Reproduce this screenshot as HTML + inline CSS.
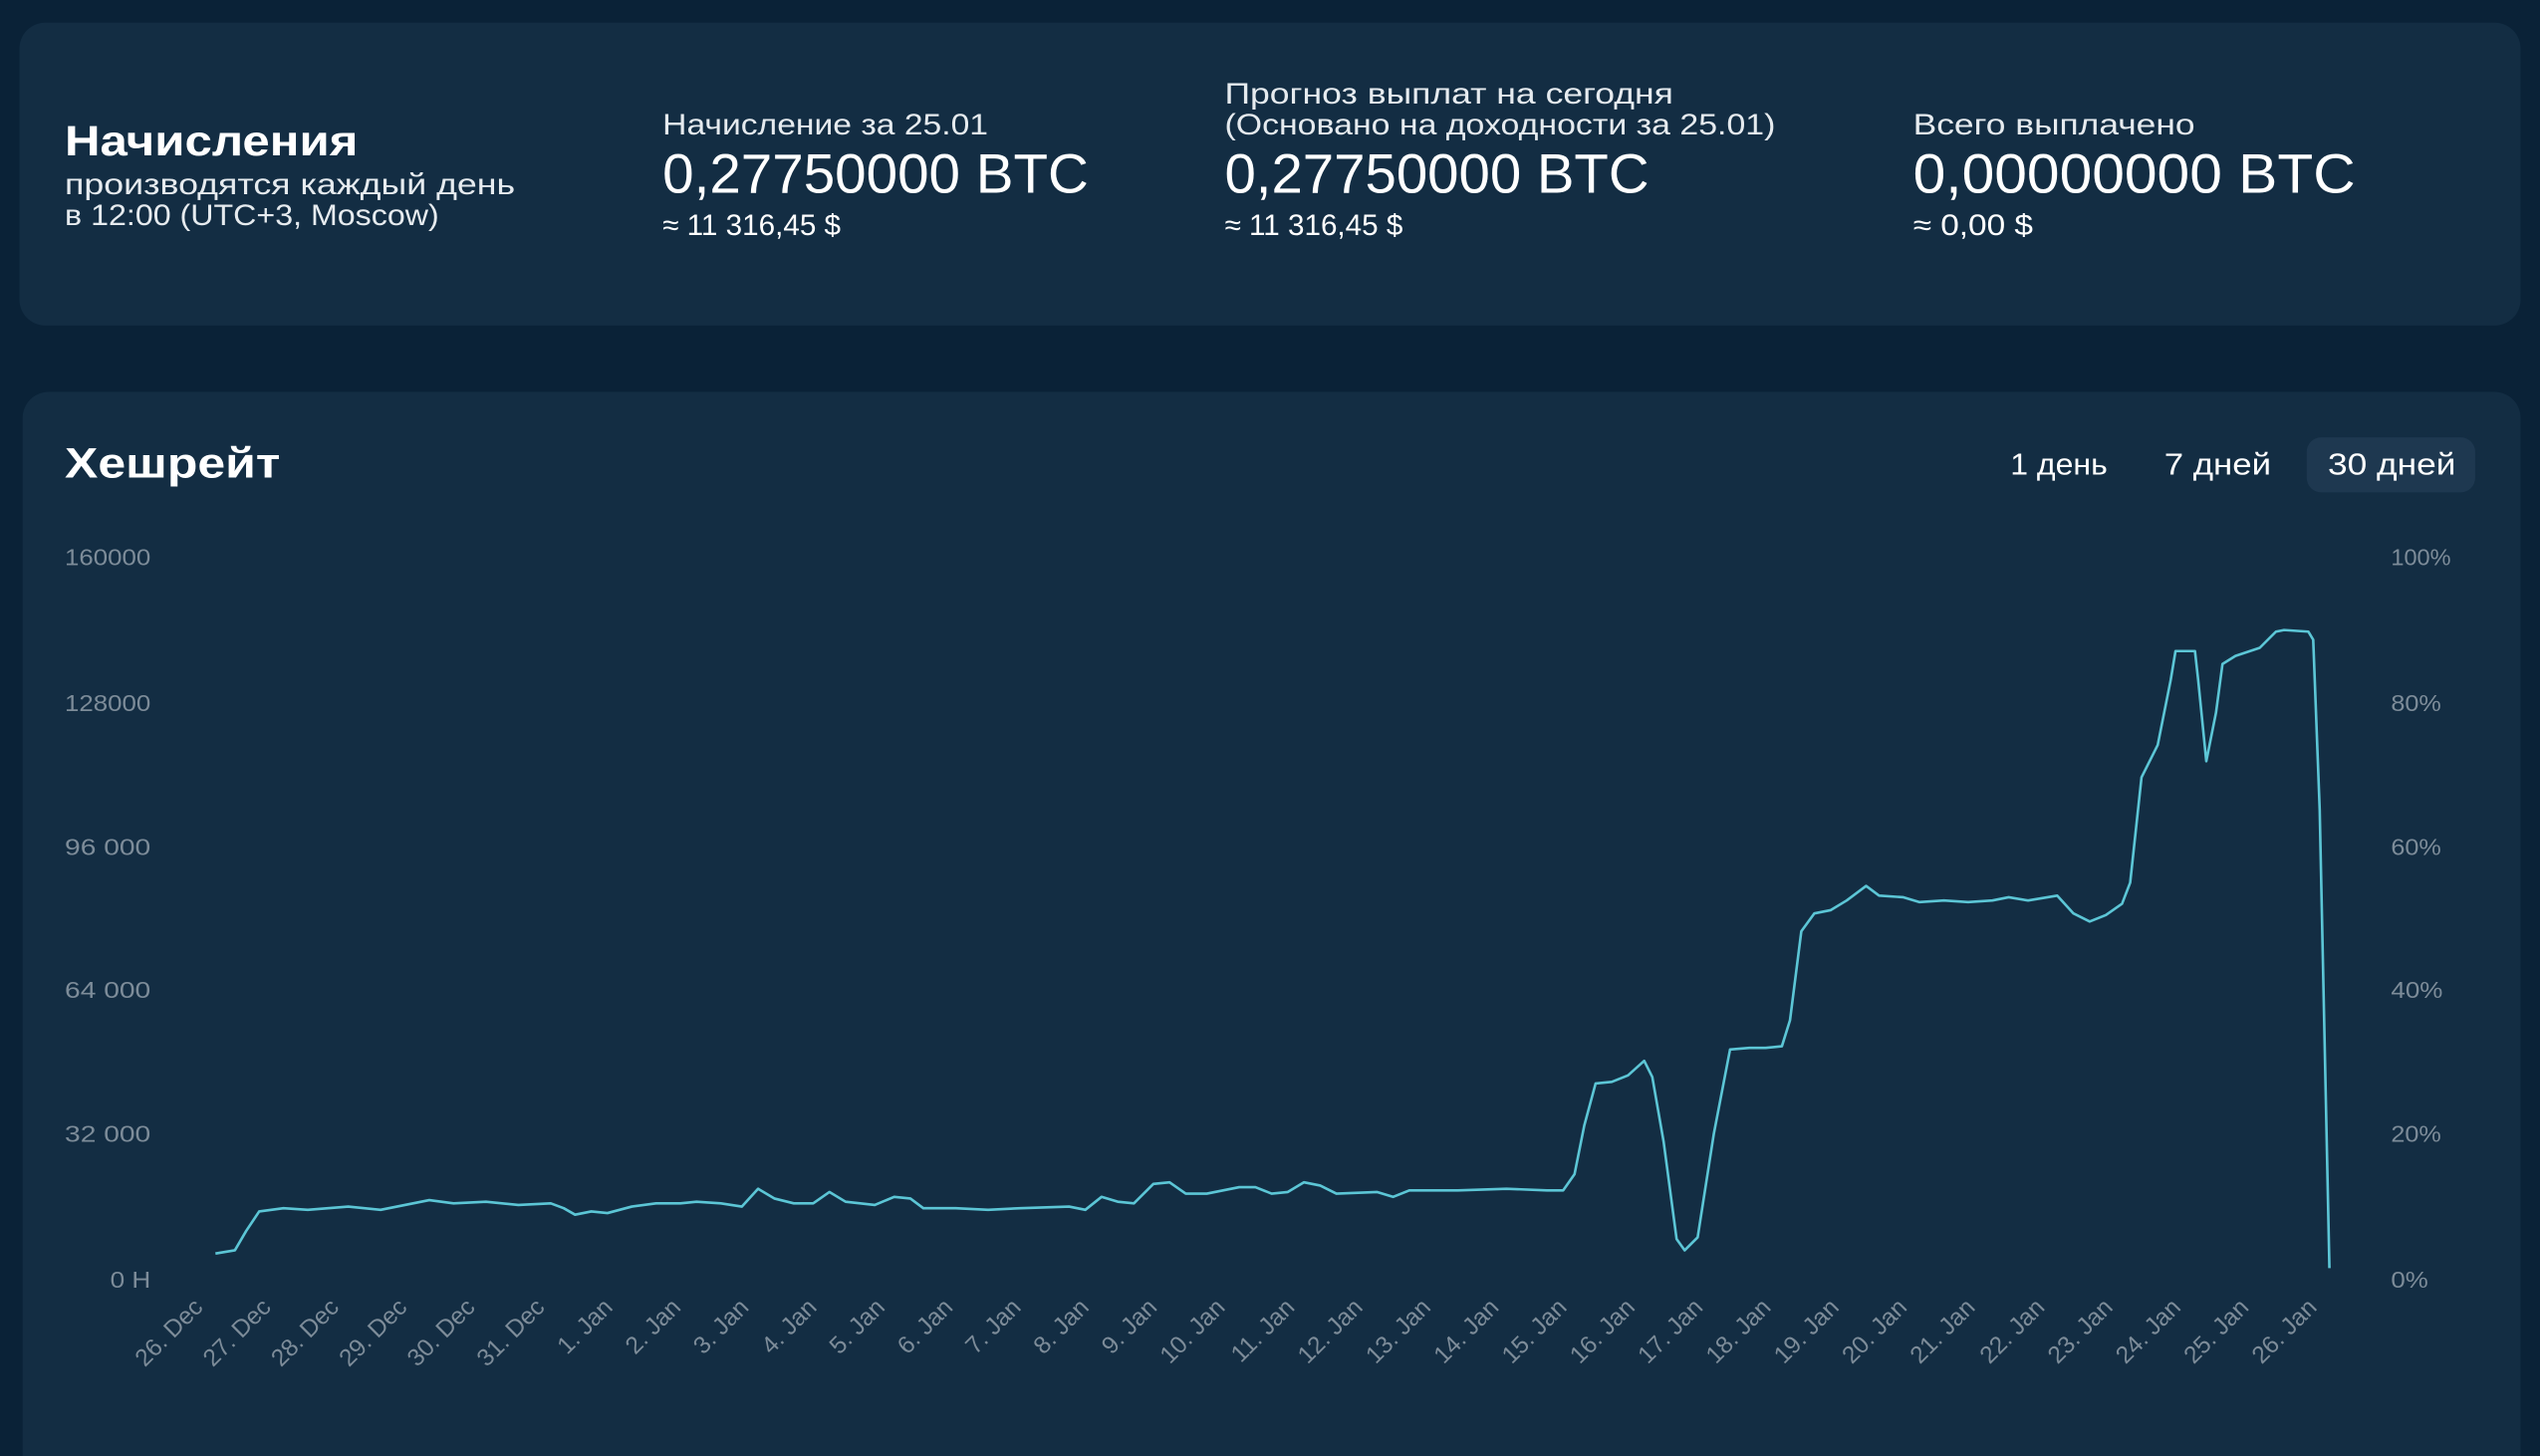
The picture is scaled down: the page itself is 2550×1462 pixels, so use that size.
<!DOCTYPE html>
<html><head><meta charset="utf-8"><style>
html,body{margin:0;padding:0;background:#0a2237;}
svg{display:block;}
text{font-family:"Liberation Sans",sans-serif;}
</style></head><body>
<svg width="2550" height="1462" viewBox="0 0 1568 899" preserveAspectRatio="none" xmlns="http://www.w3.org/2000/svg">
<rect x="0" y="0" width="1568" height="899" fill="#0a2237"/>
<rect x="12" y="14" width="1544" height="187" rx="16" fill="#132d43"/>
<rect x="14" y="242" width="1542" height="680" rx="16" fill="#132d43"/>
<g fill="#ffffff" lengthAdjust="spacingAndGlyphs">
<text x="40" y="96" font-size="26" font-weight="bold" textLength="181" lengthAdjust="spacingAndGlyphs">Начисления</text>
<text x="40" y="120" font-size="18" fill="#e6ebef" textLength="278" lengthAdjust="spacingAndGlyphs">производятся каждый день</text>
<text x="40" y="139" font-size="18" fill="#e6ebef" textLength="231" lengthAdjust="spacingAndGlyphs">в 12:00 (UTC+3, Moscow)</text>
<text x="409" y="83" font-size="18" fill="#e6ebef" textLength="201" lengthAdjust="spacingAndGlyphs">Начисление за 25.01</text>
<text x="409" y="119" font-size="34" textLength="263" lengthAdjust="spacingAndGlyphs">0,27750000 BTC</text>
<text x="409" y="145" font-size="18" textLength="110" lengthAdjust="spacingAndGlyphs">≈ 11 316,45 $</text>
<text x="756" y="64" font-size="18" fill="#e6ebef" textLength="277" lengthAdjust="spacingAndGlyphs">Прогноз выплат на сегодня</text>
<text x="756" y="83" font-size="18" fill="#e6ebef" textLength="340" lengthAdjust="spacingAndGlyphs">(Основано на доходности за 25.01)</text>
<text x="756" y="119" font-size="34" textLength="262" lengthAdjust="spacingAndGlyphs">0,27750000 BTC</text>
<text x="756" y="145" font-size="18" textLength="110" lengthAdjust="spacingAndGlyphs">≈ 11 316,45 $</text>
<text x="1181" y="83" font-size="18" fill="#e6ebef" textLength="174" lengthAdjust="spacingAndGlyphs">Всего выплачено</text>
<text x="1181" y="119" font-size="34" textLength="273" lengthAdjust="spacingAndGlyphs">0,00000000 BTC</text>
<text x="1181" y="145" font-size="18" textLength="74" lengthAdjust="spacingAndGlyphs">≈ 0,00 $</text>
<text x="40" y="295" font-size="26" font-weight="bold" textLength="133" lengthAdjust="spacingAndGlyphs">Хешрейт</text>
</g>
<rect x="1424" y="270" width="104" height="34" rx="9" fill="#1e3850"/>
<g fill="#ffffff" font-size="19">
<text x="1241" y="293" textLength="60" lengthAdjust="spacingAndGlyphs">1 день</text>
<text x="1336" y="293" textLength="66" lengthAdjust="spacingAndGlyphs">7 дней</text>
<text x="1437" y="293" textLength="79" lengthAdjust="spacingAndGlyphs">30 дней</text>
</g>
<g fill="#7d8c99" font-size="14">
<text x="40" y="349" textLength="53" lengthAdjust="spacingAndGlyphs">160000</text>
<text x="40" y="439" textLength="53" lengthAdjust="spacingAndGlyphs">128000</text>
<text x="40" y="528" textLength="53" lengthAdjust="spacingAndGlyphs">96 000</text>
<text x="40" y="616" textLength="53" lengthAdjust="spacingAndGlyphs">64 000</text>
<text x="40" y="705" textLength="53" lengthAdjust="spacingAndGlyphs">32 000</text>
<text x="68" y="795" textLength="25" lengthAdjust="spacingAndGlyphs">0 H</text>
<text x="1476" y="349" textLength="37" lengthAdjust="spacingAndGlyphs">100%</text>
<text x="1476" y="439" textLength="31" lengthAdjust="spacingAndGlyphs">80%</text>
<text x="1476" y="528" textLength="31" lengthAdjust="spacingAndGlyphs">60%</text>
<text x="1476" y="616" textLength="32" lengthAdjust="spacingAndGlyphs">40%</text>
<text x="1476" y="705" textLength="31" lengthAdjust="spacingAndGlyphs">20%</text>
<text x="1476" y="795" textLength="23" lengthAdjust="spacingAndGlyphs">0%</text>
</g>
<g fill="#7d8c99" font-size="15" text-anchor="end">
<text transform="translate(126,808) rotate(-45)">26. Dec</text>
<text transform="translate(168,808) rotate(-45)">27. Dec</text>
<text transform="translate(210,808) rotate(-45)">28. Dec</text>
<text transform="translate(252,808) rotate(-45)">29. Dec</text>
<text transform="translate(294,808) rotate(-45)">30. Dec</text>
<text transform="translate(337,808) rotate(-45)">31. Dec</text>
<text transform="translate(379,808) rotate(-45)">1. Jan</text>
<text transform="translate(421,808) rotate(-45)">2. Jan</text>
<text transform="translate(463,808) rotate(-45)">3. Jan</text>
<text transform="translate(505,808) rotate(-45)">4. Jan</text>
<text transform="translate(547,808) rotate(-45)">5. Jan</text>
<text transform="translate(589,808) rotate(-45)">6. Jan</text>
<text transform="translate(631,808) rotate(-45)">7. Jan</text>
<text transform="translate(673,808) rotate(-45)">8. Jan</text>
<text transform="translate(715,808) rotate(-45)">9. Jan</text>
<text transform="translate(757,808) rotate(-45)">10. Jan</text>
<text transform="translate(800,808) rotate(-45)">11. Jan</text>
<text transform="translate(842,808) rotate(-45)">12. Jan</text>
<text transform="translate(884,808) rotate(-45)">13. Jan</text>
<text transform="translate(926,808) rotate(-45)">14. Jan</text>
<text transform="translate(968,808) rotate(-45)">15. Jan</text>
<text transform="translate(1010,808) rotate(-45)">16. Jan</text>
<text transform="translate(1052,808) rotate(-45)">17. Jan</text>
<text transform="translate(1094,808) rotate(-45)">18. Jan</text>
<text transform="translate(1136,808) rotate(-45)">19. Jan</text>
<text transform="translate(1178,808) rotate(-45)">20. Jan</text>
<text transform="translate(1220,808) rotate(-45)">21. Jan</text>
<text transform="translate(1263,808) rotate(-45)">22. Jan</text>
<text transform="translate(1305,808) rotate(-45)">23. Jan</text>
<text transform="translate(1347,808) rotate(-45)">24. Jan</text>
<text transform="translate(1389,808) rotate(-45)">25. Jan</text>
<text transform="translate(1431,808) rotate(-45)">26. Jan</text>
</g>
<polyline fill="none" stroke="#5cc6d6" stroke-width="1.6" stroke-linejoin="round" points="133,774 145,772 152,760 160,748 175,746 190,747 215,745 235,747 250,744 265,741 280,743 300,742 320,744 340,743 348,746 355,750 365,748 375,749 390,745 405,743 420,743 430,742 445,743 458,745 468,734 478,740 490,743 502,743 512,736 522,742 540,744 552,739 562,740 570,746 590,746 610,747 630,746 660,745 670,747 680,739 690,742 700,743 712,731 722,730 732,737 745,737 765,733 775,733 785,737 795,736 805,730 815,732 825,737 850,736 860,739 870,735 900,735 930,734 955,735 965,735 972,725 978,695 985,669 995,668 1005,664 1015,655 1020,665 1027,705 1035,765 1040,772 1048,764 1058,700 1068,648 1080,647 1090,647 1100,646 1105,630 1112,575 1120,564 1130,562 1140,556 1152,547 1160,553 1175,554 1185,557 1200,556 1215,557 1230,556 1240,554 1252,556 1270,553 1280,564 1290,569 1300,565 1310,558 1315,545 1322,480 1332,460 1340,420 1343,402 1355,402 1357,420 1362,470 1368,440 1372,410 1380,405 1395,400 1405,390 1410,389 1425,390 1428,395 1432,500 1438,783"/>
</svg>
</body></html>
